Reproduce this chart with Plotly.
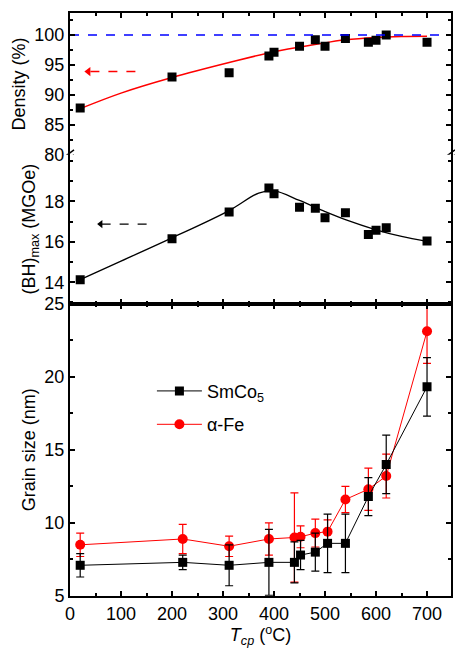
import plotly.graph_objects as go

# ---------------- data ----------------
T_dens = [20, 200, 312, 390, 400, 450, 481, 500, 540, 585, 600, 620, 700]
density = [87.8, 93.0, 93.7, 96.5, 97.1, 98.1, 99.2, 98.1, 99.4, 98.8, 99.1, 100.0, 98.8]
T_dens_fit = [20, 100, 200, 312, 400, 480, 540, 600, 650, 700]
density_fit = [87.7, 90.3, 92.9, 95.4, 97.2, 98.4, 99.2, 99.6, 99.75, 99.8]

T_bh = [20, 200, 312, 390, 400, 450, 481, 500, 540, 585, 600, 620, 700]
bhmax = [14.13, 16.16, 17.48, 18.67, 18.38, 17.72, 17.67, 17.2, 17.44, 16.37, 16.58, 16.7, 16.04]
T_bh_fit = [20, 100, 200, 312, 370, 400, 450, 500, 540, 600, 650, 700]
bhmax_fit = [14.13, 15.05, 16.2, 17.55, 18.41, 18.52, 18.05, 17.5, 17.1, 16.6, 16.27, 16.02]

T_grain = [20, 221, 312, 390, 440, 452, 481, 505, 540, 585, 620, 700]
smco5 = [7.1, 7.3, 7.1, 7.3, 7.3, 7.8, 8.0, 8.6, 8.6, 11.8, 14.0, 19.3]
smco5_err = [0.8, 0.5, 1.4, 2.25, 1.4, 1.0, 1.3, 2.0, 2.0, 1.3, 2.0, 2.0]
afe = [8.5, 8.9, 8.4, 8.9, 9.0, 9.05, 9.3, 9.4, 11.6, 12.3, 13.2, 23.1]
afe_err = [0.8, 1.0, 0.7, 1.1, 3.05, 0.75, 0.95, 0.8, 0.9, 1.45, 1.5, 2.2]

dens_arrow_x = [40, 142]
dens_arrow_y = [93.9, 93.9]
dens_arrow_tip = [36]
bh_arrow_x = [62, 159]
bh_arrow_y = [16.88, 16.88]
bh_arrow_tip = [60]

FONT = "Arial, Liberation Sans, sans-serif"
RED = "#ff0000"
BLACK = "#000000"

fig = go.Figure()

# ---- top panel: density ----
fig.add_trace(go.Scatter(x=T_dens_fit, y=density_fit, mode="lines", line=dict(color=RED, width=1.5, shape="spline"),
                         xaxis="x3", yaxis="y3", showlegend=False))
fig.add_trace(go.Scatter(x=T_dens, y=density, mode="markers", marker=dict(symbol="square", size=9, color=BLACK),
                         xaxis="x3", yaxis="y3", showlegend=False))
fig.add_trace(go.Scatter(x=[0, 747], y=[100, 100], mode="lines", line=dict(color="#0000ff", width=1.5, dash="dash"),
                         xaxis="x3", yaxis="y3", showlegend=False))
fig.add_trace(go.Scatter(x=dens_arrow_x, y=dens_arrow_y, mode="lines", line=dict(color=RED, width=1.5, dash="dash"),
                         xaxis="x3", yaxis="y3", showlegend=False))
fig.add_trace(go.Scatter(x=dens_arrow_tip, y=[dens_arrow_y[0]], mode="markers",
                         marker=dict(symbol="triangle-left", size=8, color=RED),
                         xaxis="x3", yaxis="y3", showlegend=False))

# ---- middle panel: (BH)max ----
fig.add_trace(go.Scatter(x=T_bh_fit, y=bhmax_fit, mode="lines", line=dict(color=BLACK, width=1.3, shape="spline"),
                         xaxis="x2", yaxis="y2", showlegend=False))
fig.add_trace(go.Scatter(x=T_bh, y=bhmax, mode="markers", marker=dict(symbol="square", size=9, color=BLACK),
                         xaxis="x2", yaxis="y2", showlegend=False))
fig.add_trace(go.Scatter(x=bh_arrow_x, y=bh_arrow_y, mode="lines", line=dict(color=BLACK, width=1.3, dash="dash"),
                         xaxis="x2", yaxis="y2", showlegend=False))
fig.add_trace(go.Scatter(x=bh_arrow_tip, y=[bh_arrow_y[0]], mode="markers",
                         marker=dict(symbol="triangle-left", size=7, color=BLACK),
                         xaxis="x2", yaxis="y2", showlegend=False))

# ---- bottom panel: grain size ----
fig.add_trace(go.Scatter(x=T_grain, y=afe, mode="lines+markers", name="α-Fe", legendgroup="afe",
                         line=dict(color=RED, width=1),
                         marker=dict(symbol="circle", size=10, color=RED),
                         error_y=dict(type="data", array=afe_err, color=RED, thickness=1.2, width=4),
                         xaxis="x", yaxis="y", legendrank=2))
fig.add_trace(go.Scatter(x=T_grain, y=smco5, mode="lines+markers", name="SmCo<sub>5</sub>", legendgroup="smco",
                         line=dict(color=BLACK, width=1),
                         marker=dict(symbol="square", size=9, color=BLACK),
                         error_y=dict(type="data", array=smco5_err, color=BLACK, thickness=1.2, width=4),
                         xaxis="x", yaxis="y", legendrank=1))

tickfont = dict(family=FONT, size=18, color=BLACK)
common_x = dict(range=[0, 747], showline=True, linewidth=2, linecolor=BLACK, ticks="inside", ticklen=5,
                tickwidth=1.5, tickcolor=BLACK, dtick=100, tick0=0, showgrid=False, zeroline=False,
                minor=dict(ticks="inside", ticklen=3, tickwidth=1.5, tickcolor=BLACK, dtick=50, showgrid=False))
common_y = dict(showline=True, linewidth=2, linecolor=BLACK, ticks="inside", ticklen=5, tickwidth=1.5,
                tickcolor=BLACK, mirror="ticks", showgrid=False, zeroline=False, tickfont=tickfont)

fig.update_layout(
    width=455, height=648,
    margin=dict(l=70, r=2, t=13, b=52),
    paper_bgcolor="white", plot_bgcolor="white",
    font=dict(family=FONT, size=18, color=BLACK),
    xaxis=dict(**common_x, anchor="y", mirror="ticks", tickfont=tickfont,
               title=dict(text="<i>T</i><sub><i>cp</i></sub> (<sup>o</sup>C)", font=dict(family=FONT, size=18), standoff=0)),
    xaxis2=dict(**common_x, anchor="y2", matches="x", showticklabels=False),
    xaxis3=dict(**common_x, anchor="y3", matches="x", side="top", showticklabels=False),
    yaxis=dict(**common_y, domain=[0, 0.5017], range=[5, 25], dtick=5, tick0=0,
               minor=dict(ticks="inside", ticklen=3, tickwidth=1.5, tickcolor=BLACK, dtick=2.5, tick0=0),
               title=dict(text="Grain size (nm)", font=dict(family=FONT, size=18), standoff=4)),
    yaxis2=dict(**common_y, domain=[0.5017, 0.7568], range=[12.95, 20.31], tickvals=[14, 16, 18],
                minor=dict(ticks="inside", ticklen=3, tickwidth=1.5, tickcolor=BLACK, tickvals=[13, 15, 17, 19, 20]),
                title=dict(text="(BH)<sub>max</sub> (MGOe)", font=dict(family=FONT, size=18), standoff=4)),
    yaxis3=dict(**common_y, domain=[0.7568, 1], range=[80, 103.67], dtick=5, tick0=0,
                minor=dict(ticks="inside", ticklen=3, tickwidth=1.5, tickcolor=BLACK, dtick=2.5, tick0=0),
                title=dict(text="Density (%)", font=dict(family=FONT, size=18), standoff=4)),
    legend=dict(x=0.215, y=0.383, xanchor="left", yanchor="top", bgcolor="rgba(0,0,0,0)",
                font=dict(family=FONT, size=18), traceorder="grouped", tracegroupgap=7, itemwidth=45),
)

# axis break marks
shapes = []
for xp in (0, 1):
    for dy in (-3, 2):
        shapes.append(dict(type="line", xref="paper", yref="y3", xsizemode="pixel", ysizemode="pixel",
                           xanchor=xp, yanchor=80, x0=-4, x1=4, y0=dy - 3, y1=dy + 3,
                           line=dict(color=BLACK, width=1.5)))
fig.update_layout(shapes=shapes)

fig.write_html("out.html", config={"displayModeBar": False},
               post_script="document.body.style.margin='0px';document.body.style.overflow='hidden';")
